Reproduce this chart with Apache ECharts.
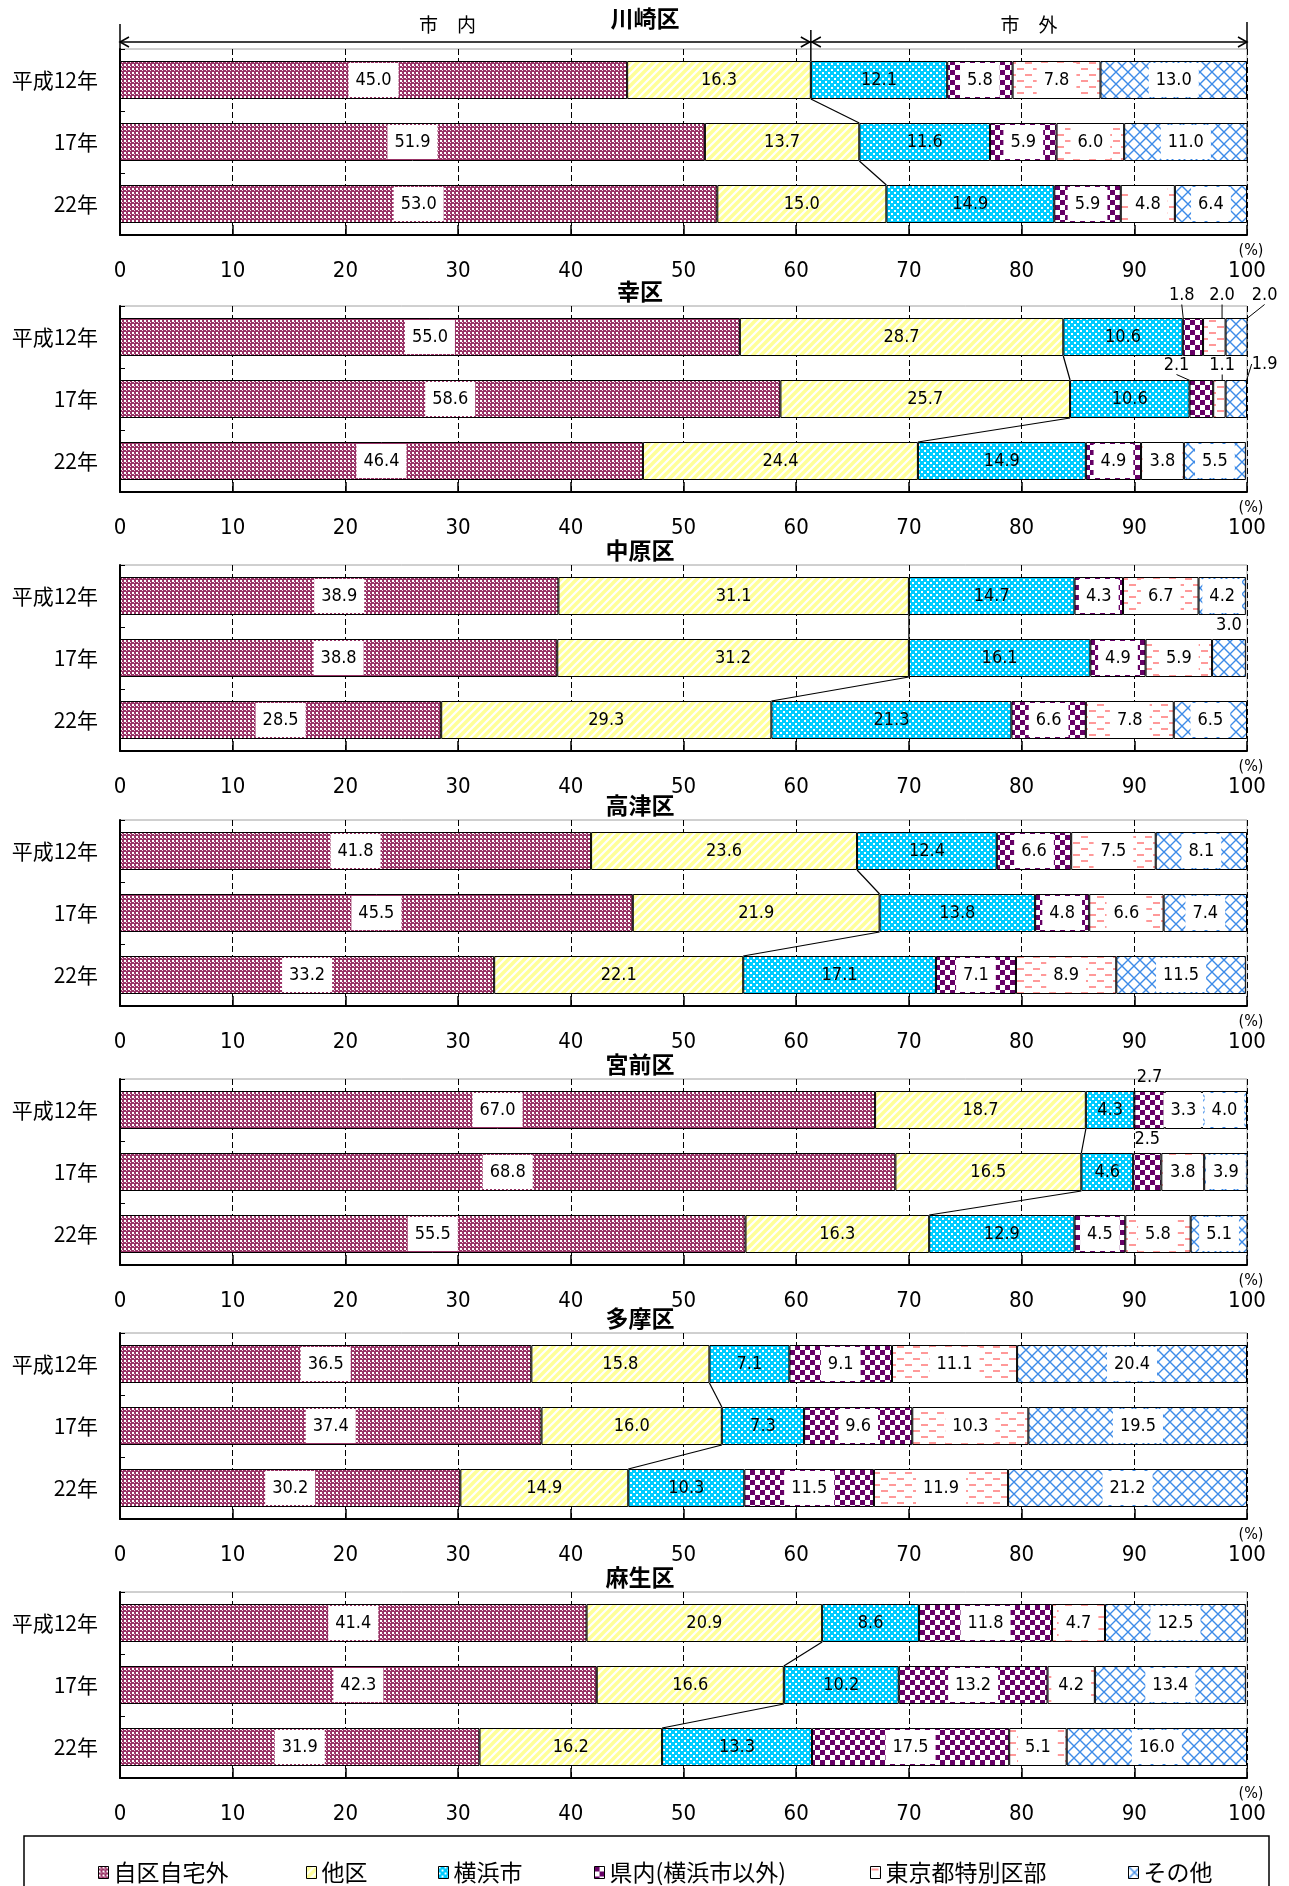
<!DOCTYPE html>
<html>
<head>
<meta charset="utf-8">
<title>通勤・通学先の構成比（区別）</title>
<script src="https://cdn.jsdelivr.net/npm/echarts@6/dist/echarts.min.js"></script>
<style>
  html, body { margin: 0; padding: 0; background: #fff; }
  #chart { width: 1289px; height: 1886px; }
</style>
</head>
<body>
<div id="chart"></div>
<script>
// ---- データ ----
var years = ['平成12年', '17年', '22年'];
var destNames = ['自区自宅外', '他区', '横浜市', '県内(横浜市以外)', '東京都特別区部', 'その他'];
var wardNames = ['川崎区', '幸区', '中原区', '高津区', '宮前区', '多摩区', '麻生区'];
var xTicks = [0, 100, 10]; // min, max, interval

// 各区：行＝年、列＝destNames の順
var kawasaki = [
  [45.0, 16.3, 12.1, 5.8, 7.8, 13.0],
  [51.9, 13.7, 11.6, 5.9, 6.0, 11.0],
  [53.0, 15.0, 14.9, 5.9, 4.8, 6.4]
];
var saiwai = [
  [55.0, 28.7, 10.6, 1.8, 2.0, 2.0],
  [58.6, 25.7, 10.6, 2.1, 1.1, 1.9],
  [46.4, 24.4, 14.9, 4.9, 3.8, 5.5]
];
var nakahara = [
  [38.9, 31.1, 14.7, 4.3, 6.7, 4.2],
  [38.8, 31.2, 16.1, 4.9, 5.9, 3.0],
  [28.5, 29.3, 21.3, 6.6, 7.8, 6.5]
];
var takatsu = [
  [41.8, 23.6, 12.4, 6.6, 7.5, 8.1],
  [45.5, 21.9, 13.8, 4.8, 6.6, 7.4],
  [33.2, 22.1, 17.1, 7.1, 8.9, 11.5]
];
var miyamae = [
  [67.0, 18.7, 4.3, 2.7, 3.3, 4.0],
  [68.8, 16.5, 4.6, 2.5, 3.8, 3.9],
  [55.5, 16.3, 12.9, 4.5, 5.8, 5.1]
];
var tama = [
  [36.5, 15.8, 7.1, 9.1, 11.1, 20.4],
  [37.4, 16.0, 7.3, 9.6, 10.3, 19.5],
  [30.2, 14.9, 10.3, 11.5, 11.9, 21.2]
];
var asao = [
  [41.4, 20.9, 8.6, 11.8, 4.7, 12.5],
  [42.3, 16.6, 10.2, 13.2, 4.2, 13.4],
  [31.9, 16.2, 13.3, 17.5, 5.1, 16.0]
];
var wardData = [kawasaki, saiwai, nakahara, takatsu, miyamae, tama, asao];

// ---- レイアウト ----
var NUM_FONT = "'Liberation Sans Narrow', 'DejaVu Sans Condensed', 'Arial Narrow', 'Liberation Sans', sans-serif";
var JP_FONT = "'Noto Sans CJK JP', 'Noto Sans', sans-serif";
var GRID_LEFT = 120, GRID_W = 1127, GRID_H = 186, BAR_H = 38;
var gridTops = [49, 306, 565, 820, 1079, 1333, 1592];
var legendLefts = [93, 301, 433, 589, 865, 1123];

// 小さい値のラベルはバーの外へ（キー: 区-年-系列）
var outsideLabels = {
  '1-0-3': { pos: [-1, -23], line: true },
  '1-0-4': { pos: [19, -23], line: true },
  '1-0-5': { pos: [39, -23], line: true },
  '1-1-3': { pos: [-13, -15], line: true },
  '1-1-4': { pos: [9, -15], line: true },
  '1-1-5': { pos: [39, -16], line: true },
  '2-1-5': { pos: ['50%', -14] },
  '4-0-3': { pos: ['50%', -14] },
  '4-1-3': { pos: ['50%', -14] }
};

// ---- 網掛けパターン ----
function pattern(w, h, draw) {
  var c = document.createElement('canvas');
  c.width = w; c.height = h;
  var g = c.getContext('2d');
  draw(g, w, h);
  return { image: c, repeat: 'repeat' };
}
var fills = [
  pattern(4, 4, function (g) {
    g.fillStyle = '#993366'; g.fillRect(0, 0, 4, 4);
    g.fillStyle = '#fff'; g.fillRect(0, 0, 2, 2); g.fillStyle = '#f3dbe7'; g.fillRect(2, 2, 1, 1);
  }),
  pattern(8, 8, function (g) {
    g.fillStyle = '#ffff99'; g.fillRect(0, 0, 8, 8);
    g.strokeStyle = '#fff'; g.lineWidth = 2.2;
    g.beginPath();
    g.moveTo(-1, 9); g.lineTo(9, -1);
    g.moveTo(-1, 1); g.lineTo(1, -1);
    g.moveTo(7, 9); g.lineTo(9, 7);
    g.stroke();
  }),
  pattern(6, 6, function (g) {
    g.fillStyle = '#00ccff'; g.fillRect(0, 0, 6, 6);
    g.fillStyle = '#fff'; g.fillRect(0, 0, 2, 2); g.fillRect(3, 3, 2, 2);
  }),
  pattern(10, 10, function (g) {
    g.fillStyle = '#fff'; g.fillRect(0, 0, 10, 10);
    g.fillStyle = '#660066'; g.fillRect(0, 0, 5, 5); g.fillRect(5, 5, 5, 5);
  }),
  pattern(16, 12, function (g) {
    g.fillStyle = '#fff'; g.fillRect(0, 0, 16, 12);
    g.fillStyle = '#ff9999'; g.fillRect(1, 2, 7, 2); g.fillRect(9, 8, 7, 2);
  }),
  pattern(12, 12, function (g) {
    g.fillStyle = '#fff'; g.fillRect(0, 0, 12, 12);
    g.strokeStyle = '#3d8be8'; g.lineWidth = 1.4;
    g.beginPath();
    g.moveTo(-1, -1); g.lineTo(13, 13);
    g.moveTo(13, -1); g.lineTo(-1, 13);
    g.stroke();
  })
];
var whiteBox = [true, false, false, true, true, true];

var option = {
  animation: false,
  backgroundColor: '#fff',
  grid: [], xAxis: [], yAxis: [], series: [], legend: [], graphic: []
};

wardNames.forEach(function (ward, w) {
  var top = gridTops[w];
  option.grid.push({
    left: GRID_LEFT, top: top, width: GRID_W, height: GRID_H,
    show: true, borderColor: '#a0a0a0', borderWidth: 1, backgroundColor: 'transparent',
    outerBoundsMode: 'none'
  });
  option.xAxis.push({
    gridIndex: w, type: 'value', min: xTicks[0], max: xTicks[1], interval: xTicks[2],
    axisLine: { show: true, lineStyle: { color: '#000', width: 2 } },
    axisTick: { show: true, inside: true, length: 10, lineStyle: { color: '#000', width: 1.5 } },
    splitLine: { show: true, lineStyle: { color: '#000', width: 1, type: [6, 3] } },
    axisLabel: { margin: 25, color: '#000', fontSize: 22, fontFamily: NUM_FONT }
  });
  option.yAxis.push({
    gridIndex: w, type: 'category', inverse: true, data: years,
    axisLine: { show: true, onZero: false, lineStyle: { color: '#000', width: 2 } },
    axisTick: { show: true, inside: true, length: 5, lineStyle: { color: '#000' } },
    axisLabel: { margin: 22, color: '#000', fontSize: 21, fontFamily: JP_FONT }
  });

  destNames.forEach(function (name, s) {
    option.series.push({
      type: 'bar', name: name, xAxisIndex: w, yAxisIndex: w, stack: 'w' + w,
      barWidth: BAR_H,
      emphasis: { disabled: true },
      itemStyle: { color: fills[s], borderColor: '#000', borderWidth: 1 },
      label: {
        show: true, position: 'inside', color: '#000', fontSize: 18, fontFamily: NUM_FONT,
        lineHeight: 19,
        backgroundColor: whiteBox[s] ? '#fff' : 'transparent',
        padding: whiteBox[s] ? [8, 7, 7, 7] : 0,
        formatter: function (p) { return p.value.toFixed(1); }
      },
      data: wardData[w].map(function (row, y) {
        var item = { value: row[s] };
        var o = outsideLabels[w + '-' + y + '-' + s];
        if (o) {
          item.label = { position: o.pos, align: 'center', verticalAlign: 'middle',
            backgroundColor: 'transparent', padding: 0 };
          if (o.line) item.labelLine = { show: true, length2: 0, lineStyle: { color: '#000', width: 1 } };
        }
        return item;
      })
    });
  });

  // 市内／市外の境界をつなぐ線
  var cum = wardData[w].map(function (row) { return row[0] + row[1]; });
  option.series.push({
    type: 'custom', xAxisIndex: w, yAxisIndex: w, silent: true, z: 5,
    encode: { y: 0, x: [1, 2] },
    data: [[0, cum[0], cum[1]], [1, cum[1], cum[2]]],
    renderItem: function (params, api) {
      var i = api.value(0);
      var a = api.coord([api.value(1), i]);
      var b = api.coord([api.value(2), i + 1]);
      return {
        type: 'line',
        shape: { x1: a[0], y1: a[1] + BAR_H / 2, x2: b[0], y2: b[1] - BAR_H / 2 },
        style: { stroke: '#000', lineWidth: 1.2 }
      };
    }
  });

  // 区名と (%)
  option.graphic.push({
    type: 'text', x: w === 0 ? 645 : 640, y: w === 0 ? 18 : top - 15,
    style: { text: ward, font: 'bold 23px ' + JP_FONT, fill: '#000', align: 'center', verticalAlign: 'middle' }
  });
  option.graphic.push({
    type: 'text', x: 1251, y: top + GRID_H + 16,
    style: { text: '(%)', font: '16px ' + NUM_FONT, fill: '#000', align: 'center', verticalAlign: 'middle' }
  });
});

// 川崎区の上の 市内 ↔ 市外 矢印
option.series.push({
  type: 'custom', xAxisIndex: 0, yAxisIndex: 0, silent: true, z: 6,
  encode: { x: 1, y: 0 },
  data: [[0, kawasaki[0][0] + kawasaki[0][1]]],
  renderItem: function (params, api) {
    var p0 = api.coord([0, 0]), pm = api.coord([api.value(1), 0]), p1 = api.coord([100, 0]);
    var band = api.size([0, 1])[1];
    var top = p0[1] - band / 2;
    var ay = top - 7;
    var st = { stroke: '#000', lineWidth: 1.5, fill: 'none' };
    function chev(x, d) {
      return { type: 'polyline', shape: { points: [[x + d * 9, ay - 5], [x, ay], [x + d * 9, ay + 5]] }, style: st };
    }
    var tx = { font: '19px ' + JP_FONT, fill: '#000', align: 'center', verticalAlign: 'middle' };
    return {
      type: 'group',
      children: [
        { type: 'line', shape: { x1: p0[0], y1: ay, x2: p1[0], y2: ay }, style: st },
        { type: 'line', shape: { x1: p0[0], y1: top - 25, x2: p0[0], y2: top }, style: st },
        { type: 'line', shape: { x1: pm[0], y1: top - 19, x2: pm[0], y2: top + (band - BAR_H) / 2 }, style: st },
        { type: 'line', shape: { x1: p1[0], y1: top - 27, x2: p1[0], y2: top }, style: st },
        chev(p0[0], 1), chev(pm[0] - 1, -1), chev(pm[0] + 1, 1), chev(p1[0], -1),
        { type: 'text', x: (p0[0] + pm[0]) / 2 - 18, y: top - 24, style: Object.assign({ text: '市　内' }, tx) },
        { type: 'text', x: (pm[0] + p1[0]) / 2, y: top - 24, style: Object.assign({ text: '市　外' }, tx) }
      ]
    };
  }
});

// 凡例
destNames.forEach(function (name, i) {
  option.legend.push({
    left: legendLefts[i], top: 1856, data: [name], selectedMode: false,
    icon: 'rect', itemWidth: 10, itemHeight: 12, itemGap: 0,
    itemStyle: { borderColor: '#000', borderWidth: 1 },
    textStyle: { fontSize: 23, fontFamily: JP_FONT, color: '#000' }
  });
});
option.graphic.push({
  type: 'rect', shape: { x: 24, y: 1836, width: 1245, height: 90 },
  style: { fill: 'none', stroke: '#000', lineWidth: 1.5 }
});

var chart = echarts.init(document.getElementById('chart'), null, { renderer: 'canvas' });
chart.setOption(option);
</script>
</body>
</html>
